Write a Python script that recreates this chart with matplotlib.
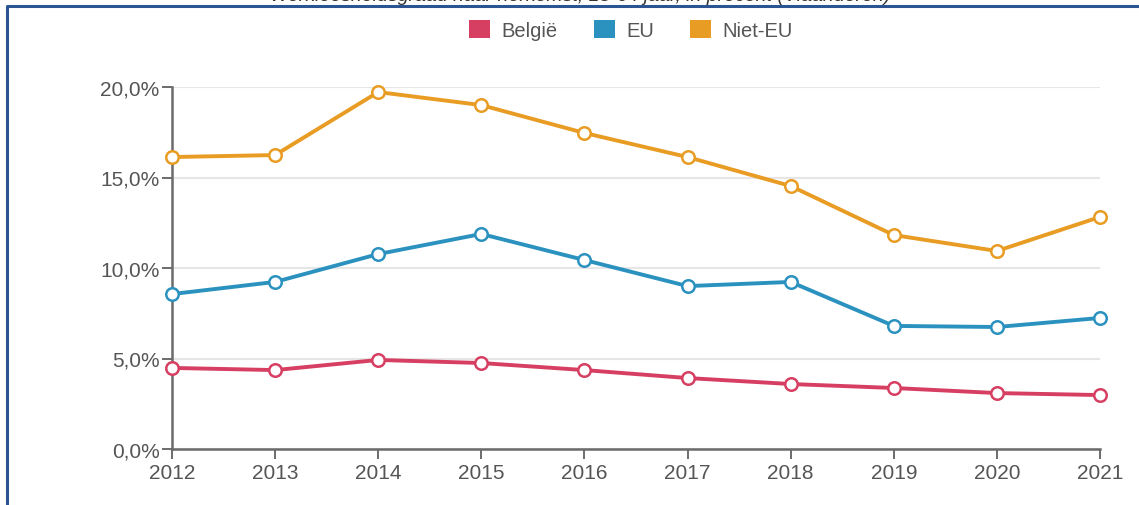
import matplotlib.pyplot as plt
from matplotlib.patches import Patch
from matplotlib.lines import Line2D
from matplotlib.ticker import FuncFormatter

plt.rcParams['font.family'] = ['Liberation Sans', 'DejaVu Sans']

years = [2012, 2013, 2014, 2015, 2016, 2017, 2018, 2019, 2020, 2021]
belgie = [4.48, 4.36, 4.92, 4.75, 4.36, 3.92, 3.59, 3.37, 3.09, 2.98]
eu = [8.56, 9.23, 10.77, 11.88, 10.44, 9.0, 9.23, 6.8, 6.74, 7.24]
niet_eu = [16.13, 16.24, 19.72, 19.0, 17.46, 16.13, 14.53, 11.82, 10.94, 12.82]

series = [('België', belgie, '#d63f62'),
          ('EU', eu, '#2b92c0'),
          ('Niet-EU', niet_eu, '#e89c23')]

W, H = 1139, 506
fig = plt.figure(figsize=(W / 100, H / 100), dpi=100)
ax = fig.add_axes([172 / W, 1 - 450 / H, (1100 - 172) / W, (450 - 88) / H])

for name, vals, col in series:
    ax.plot(years, vals, color=col, lw=2.8, marker='o', markersize=9,
            markerfacecolor='white', markeredgecolor=col, markeredgewidth=1.8,
            clip_on=False, zorder=3)

ax.set_xlim(2012, 2021)
ax.set_ylim(0, 20)
ax.set_xticks(years)
ax.set_yticks([0, 5, 10, 15, 20])
ax.yaxis.set_major_formatter(FuncFormatter(lambda v, p: f'{v:.1f}%'.replace('.', ',')))
ax.grid(axis='y', color='#e6e6e6', lw=1.5, zorder=0)

for s in ['top', 'right']:
    ax.spines[s].set_visible(False)
for s in ['left', 'bottom']:
    ax.spines[s].set_color('#6b6b6b')
    ax.spines[s].set_linewidth(1.8)
ax.tick_params(colors='#6b6b6b', width=1.4, length=7, labelsize=15,
               labelcolor='#555555')
ax.tick_params(axis='x', pad=3)
ax.tick_params(axis='y', pad=2)

handles = [Patch(facecolor=c, edgecolor='none', label=n) for n, _, c in series]
fig.legend(handles=handles, loc='center', bbox_to_anchor=(631 / W, 1 - 31 / H),
           ncol=3, frameon=False, fontsize=14.5, handlelength=1.03,
           handleheight=1.03, handletextpad=0.57, columnspacing=1.8,
           labelcolor='#555555')

fig.text(580 / W, 1 - 1 / H,
         'Werkloosheidsgraad naar herkomst, 15-64 jaar, in procent (Vlaanderen)',
         ha='center', va='baseline', fontsize=14, style='italic', color='#333333')

# kader rond de grafiek
fig.add_artist(Line2D([7 / W, 7 / W, 1.0], [0.0, 1 - 7 / H, 1 - 7 / H],
                      transform=fig.transFigure, color='#2b5490', lw=2.2))

fig.savefig('out.png', dpi=100)
